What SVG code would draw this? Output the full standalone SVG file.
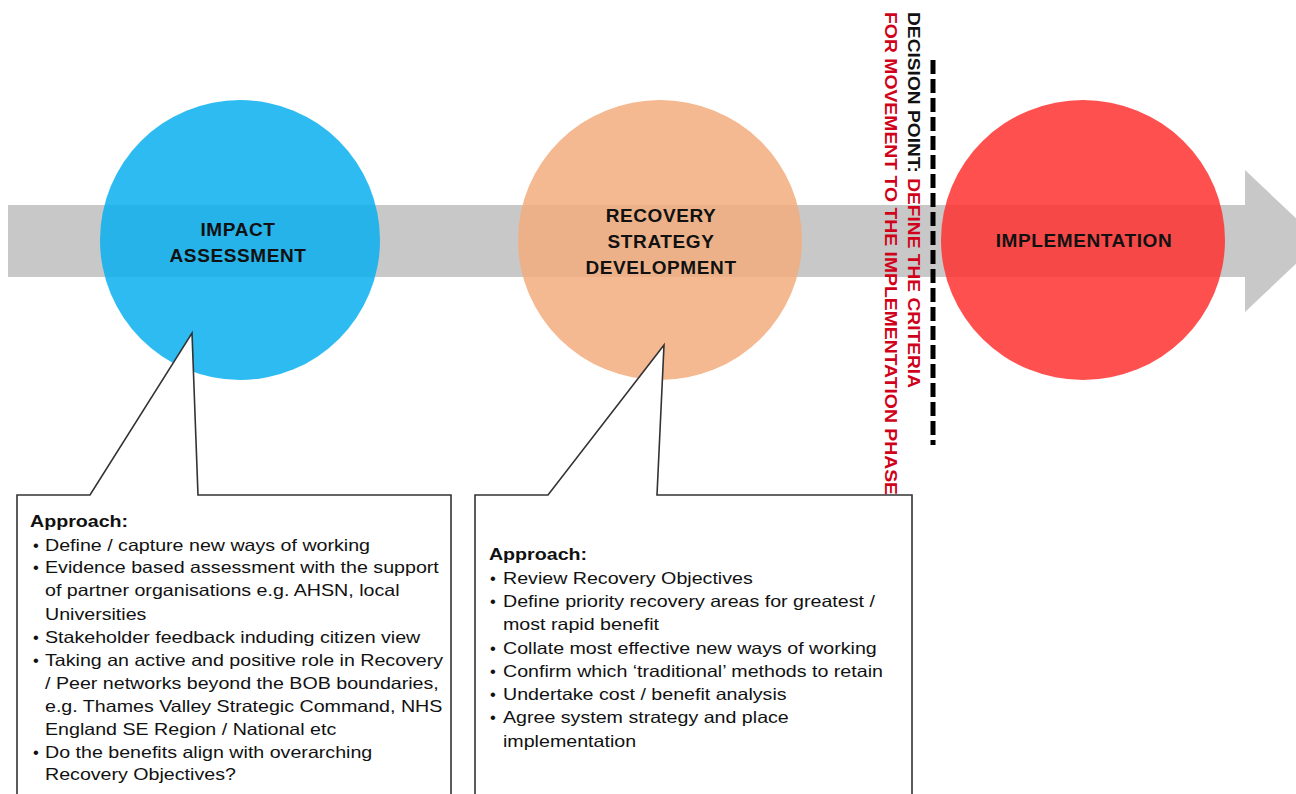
<svg xmlns="http://www.w3.org/2000/svg" width="1296" height="794" viewBox="0 0 1296 794">
<style>
.lbl{font-family:"Liberation Sans",Arial,sans-serif;font-weight:bold;font-size:19px;fill:#111;text-anchor:middle;letter-spacing:0.6px}
.body{font-family:"Liberation Sans",Arial,sans-serif;font-size:16.5px;fill:#111}
.hd{font-weight:bold}
.box{fill:#fff;stroke:#333;stroke-width:1.6}
.vt{font-family:"Liberation Sans",Arial,sans-serif;font-weight:bold;font-size:17px}
</style>
<rect width="1296" height="794" fill="#fff"/>
<g id="arrow">
<path d="M8,205 L1245,205 L1245,170 L1320,241 L1245,312 L1245,277 L8,277 Z" fill="#c8c8c8"/>
</g>
<g id="impact-assessment">
<circle cx="240" cy="240" r="140" fill="#08afef" fill-opacity="0.85"/>
<text class="lbl" x="238" y="236" letter-spacing="1.5">IMPACT</text>
<text class="lbl" x="238" y="262">ASSESSMENT</text>
</g>
<g id="recovery-strategy">
<ellipse cx="660" cy="240" rx="142" ry="140" fill="#f2ad7e" fill-opacity="0.85"/>
<text class="lbl" x="661" y="222">RECOVERY</text>
<text class="lbl" x="661" y="248">STRATEGY</text>
<text class="lbl" x="661" y="274">DEVELOPMENT</text>
</g>
<g id="implementation">
<ellipse cx="1083" cy="240" rx="142" ry="140" fill="#ff3131" fill-opacity="0.85"/>
<text class="lbl" x="1084" y="247">IMPLEMENTATION</text>
</g>
<g id="decision-point">
<line x1="933" y1="60" x2="933" y2="445" stroke="#000" stroke-width="5" stroke-dasharray="14,5"/>
<text class="vt" transform="translate(908,12) rotate(90)" textLength="376" lengthAdjust="spacingAndGlyphs"><tspan fill="#111">DECISION POINT: </tspan><tspan fill="#d0021b">DEFINE THE CRITERIA</tspan></text>
<text class="vt" transform="translate(885,12) rotate(90)" fill="#d0021b" textLength="483" lengthAdjust="spacingAndGlyphs">FOR MOVEMENT TO THE IMPLEMENTATION PHASE</text>
</g>
<g id="impact-callout">
<path class="box" d="M17,800 L17,495 L90,495 L192,333 L198,495 L451,495 L451,800"/>
<g class="body">
<text x="33" y="551">•</text><text x="33" y="573">•</text><text x="33" y="643">•</text><text x="33" y="666">•</text><text x="33" y="758">•</text>
<g transform="translate(45 0) scale(1.19 1) translate(-45 0)">
<text class="hd" x="32.4" y="527">Approach:</text>
<text x="45" y="551">Define / capture new ways of working</text>
<text x="45" y="573">Evidence based assessment with the support</text>
<text x="45" y="596">of partner organisations e.g. AHSN, local</text>
<text x="45" y="620">Universities</text>
<text x="45" y="643">Stakeholder feedback induding citizen view</text>
<text x="45" y="666">Taking an active and positive role in Recovery</text>
<text x="45" y="689">/ Peer networks beyond the BOB boundaries,</text>
<text x="45" y="712">e.g. Thames Valley Strategic Command, NHS</text>
<text x="45" y="735">England SE Region / National etc</text>
<text x="45" y="758">Do the benefits align with overarching</text>
<text x="45" y="780">Recovery Objectives?</text>
</g>
</g>
</g>
<g id="recovery-callout">
<path class="box" d="M475,800 L475,495 L548,495 L664,345 L657,495 L912,495 L912,800"/>
<g class="body">
<text x="490" y="584">•</text><text x="490" y="607">•</text><text x="490" y="654">•</text><text x="490" y="677">•</text><text x="490" y="700">•</text><text x="490" y="723">•</text>
<g transform="translate(503 0) scale(1.19 1) translate(-503 0)">
<text class="hd" x="491.2" y="560">Approach:</text>
<text x="503" y="584">Review Recovery Objectives</text>
<text x="503" y="607">Define priority recovery areas for greatest /</text>
<text x="503" y="630">most rapid benefit</text>
<text x="503" y="654">Collate most effective new ways of working</text>
<text x="503" y="677">Confirm which ‘traditional’ methods to retain</text>
<text x="503" y="700">Undertake cost / benefit analysis</text>
<text x="503" y="723">Agree system strategy and place</text>
<text x="503" y="747">implementation</text>
</g>
</g>
</g>
</svg>
